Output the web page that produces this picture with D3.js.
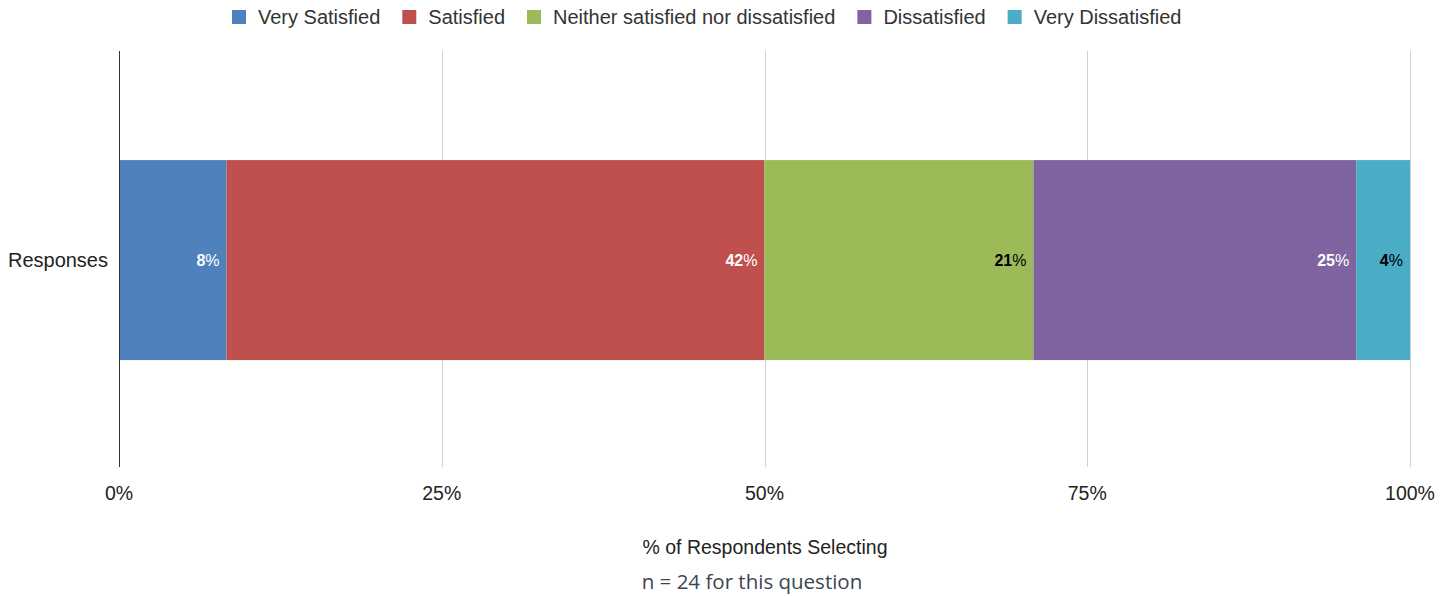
<!DOCTYPE html>
<html>
<head>
<meta charset="utf-8">
<script src="https://cdn.jsdelivr.net/npm/d3@7"></script>
<style>
  body { margin: 0; background: #fff; }
  svg text { font-family: "Liberation Sans", Arial, sans-serif; }
</style>
</head>
<body>
<script>
var width = 1451;
var height = 596;

var margin = { top: 51, right: 41, bottom: 129, left: 119 };

// data: n = 24 respondents
var categories = ["Responses"];
var seriesNames = ["Very Satisfied", "Satisfied", "Neither satisfied nor dissatisfied", "Dissatisfied", "Very Dissatisfied"];
var seriesCounts = [2, 10, 5, 6, 1];
var seriesColors = ["#4f81bd", "#c0504d", "#9bbb59", "#8064a2", "#4bacc6"];
var labelColors = ["#fff", "#fff", "#000", "#fff", "#000"];
var tickValues = [0, 0.25, 0.5, 0.75, 1];
var total = d3.sum(seriesCounts);

var svg = d3.select("body")
    .append("svg")
    .attr("width", width)
    .attr("height", height);

var x = d3.scaleLinear()
    .domain([0, 1])
    .range([margin.left, width - margin.right]);

var y = d3.scaleBand()
    .domain(categories)
    .range([margin.top, height - margin.bottom])
    .paddingInner(0)
    .paddingOuter(0.54)
    .align(0.505);

// gridlines
svg.append("g")
    .selectAll("line")
    .data(tickValues.slice(1))
    .enter()
    .append("line")
    .attr("x1", function(d) { return Math.round(x(d)) + 0.5; })
    .attr("x2", function(d) { return Math.round(x(d)) + 0.5; })
    .attr("y1", margin.top)
    .attr("y2", height - margin.bottom)
    .attr("stroke", "#d0d0d0")
    .attr("stroke-width", 1);

// stacked bar segments
var stacked = [];
var run = 0;
seriesCounts.forEach(function(c, i) {
    var share = c / total;
    stacked.push({ name: seriesNames[i], x0: run, x1: run + share, share: share, i: i });
    run += share;
});

var bars = svg.append("g");
bars.selectAll("rect")
    .data(stacked)
    .enter()
    .append("rect")
    .attr("x", function(d) { return x(d.x0); })
    .attr("width", function(d) { return x(d.x1) - x(d.x0); })
    .attr("y", y("Responses"))
    .attr("height", y.bandwidth())
    .attr("fill", function(d) { return seriesColors[d.i]; });

// data labels
var lbl = bars.selectAll("text.lbl")
    .data(stacked)
    .enter()
    .append("text")
    .attr("class", "lbl")
    .attr("x", function(d) { return x(d.x1) - 7; })
    .attr("y", y("Responses") + y.bandwidth() / 2)
    .attr("dy", "0.35em")
    .attr("text-anchor", "end")
    .attr("font-size", 16)
    .attr("fill", function(d) { return labelColors[d.i]; });
lbl.append("tspan")
    .attr("font-weight", "bold")
    .text(function(d) { return Math.round(d.share * 100); });
lbl.append("tspan")
    .text("%");

// y axis line
svg.append("line")
    .attr("x1", margin.left + 0.5)
    .attr("x2", margin.left + 0.5)
    .attr("y1", margin.top)
    .attr("y2", height - margin.bottom)
    .attr("stroke", "#333")
    .attr("stroke-width", 1);

svg.append("text")
    .attr("x", margin.left - 11)
    .attr("y", y("Responses") + y.bandwidth() / 2)
    .attr("dy", "0.35em")
    .attr("text-anchor", "end")
    .attr("font-size", 20)
    .attr("fill", "#222")
    .text("Responses");

// x tick labels
svg.append("g")
    .selectAll("text")
    .data(tickValues)
    .enter()
    .append("text")
    .attr("x", function(d) { return x(d); })
    .attr("y", 500)
    .attr("text-anchor", "middle")
    .attr("font-size", 19.5)
    .attr("fill", "#222")
    .text(d3.format(".0%"));

svg.append("text")
    .attr("x", 765)
    .attr("y", 554)
    .attr("text-anchor", "middle")
    .attr("font-size", 19.5)
    .attr("fill", "#222")
    .text("% of Respondents Selecting");

svg.append("text")
    .attr("x", 752)
    .attr("y", 589)
    .attr("text-anchor", "middle")
    .attr("font-size", 20.5)
    .attr("fill", "#3c4650")
    .style("font-family", "'Open Sans', sans-serif")
    .text("n = 24 for this question");

// legend
var legend = svg.append("g");
var items = legend.selectAll("g")
    .data(seriesNames)
    .enter()
    .append("g");
items.append("rect")
    .attr("width", 14)
    .attr("height", 14)
    .attr("y", 10)
    .attr("fill", function(d, i) { return seriesColors[i]; });
items.append("text")
    .attr("x", 26)
    .attr("y", 17)
    .attr("dy", "0.35em")
    .attr("font-size", 20)
    .attr("fill", "#333")
    .text(function(d) { return d; });

var offs = [];
var pos = 0;
items.each(function() {
    var w = 26 + d3.select(this).select("text").node().getComputedTextLength();
    offs.push(pos);
    pos += w + 22;
});
var startX = 232;
items.attr("transform", function(d, i) { return "translate(" + (startX + offs[i]) + ",0)"; });
</script>
</body>
</html>
